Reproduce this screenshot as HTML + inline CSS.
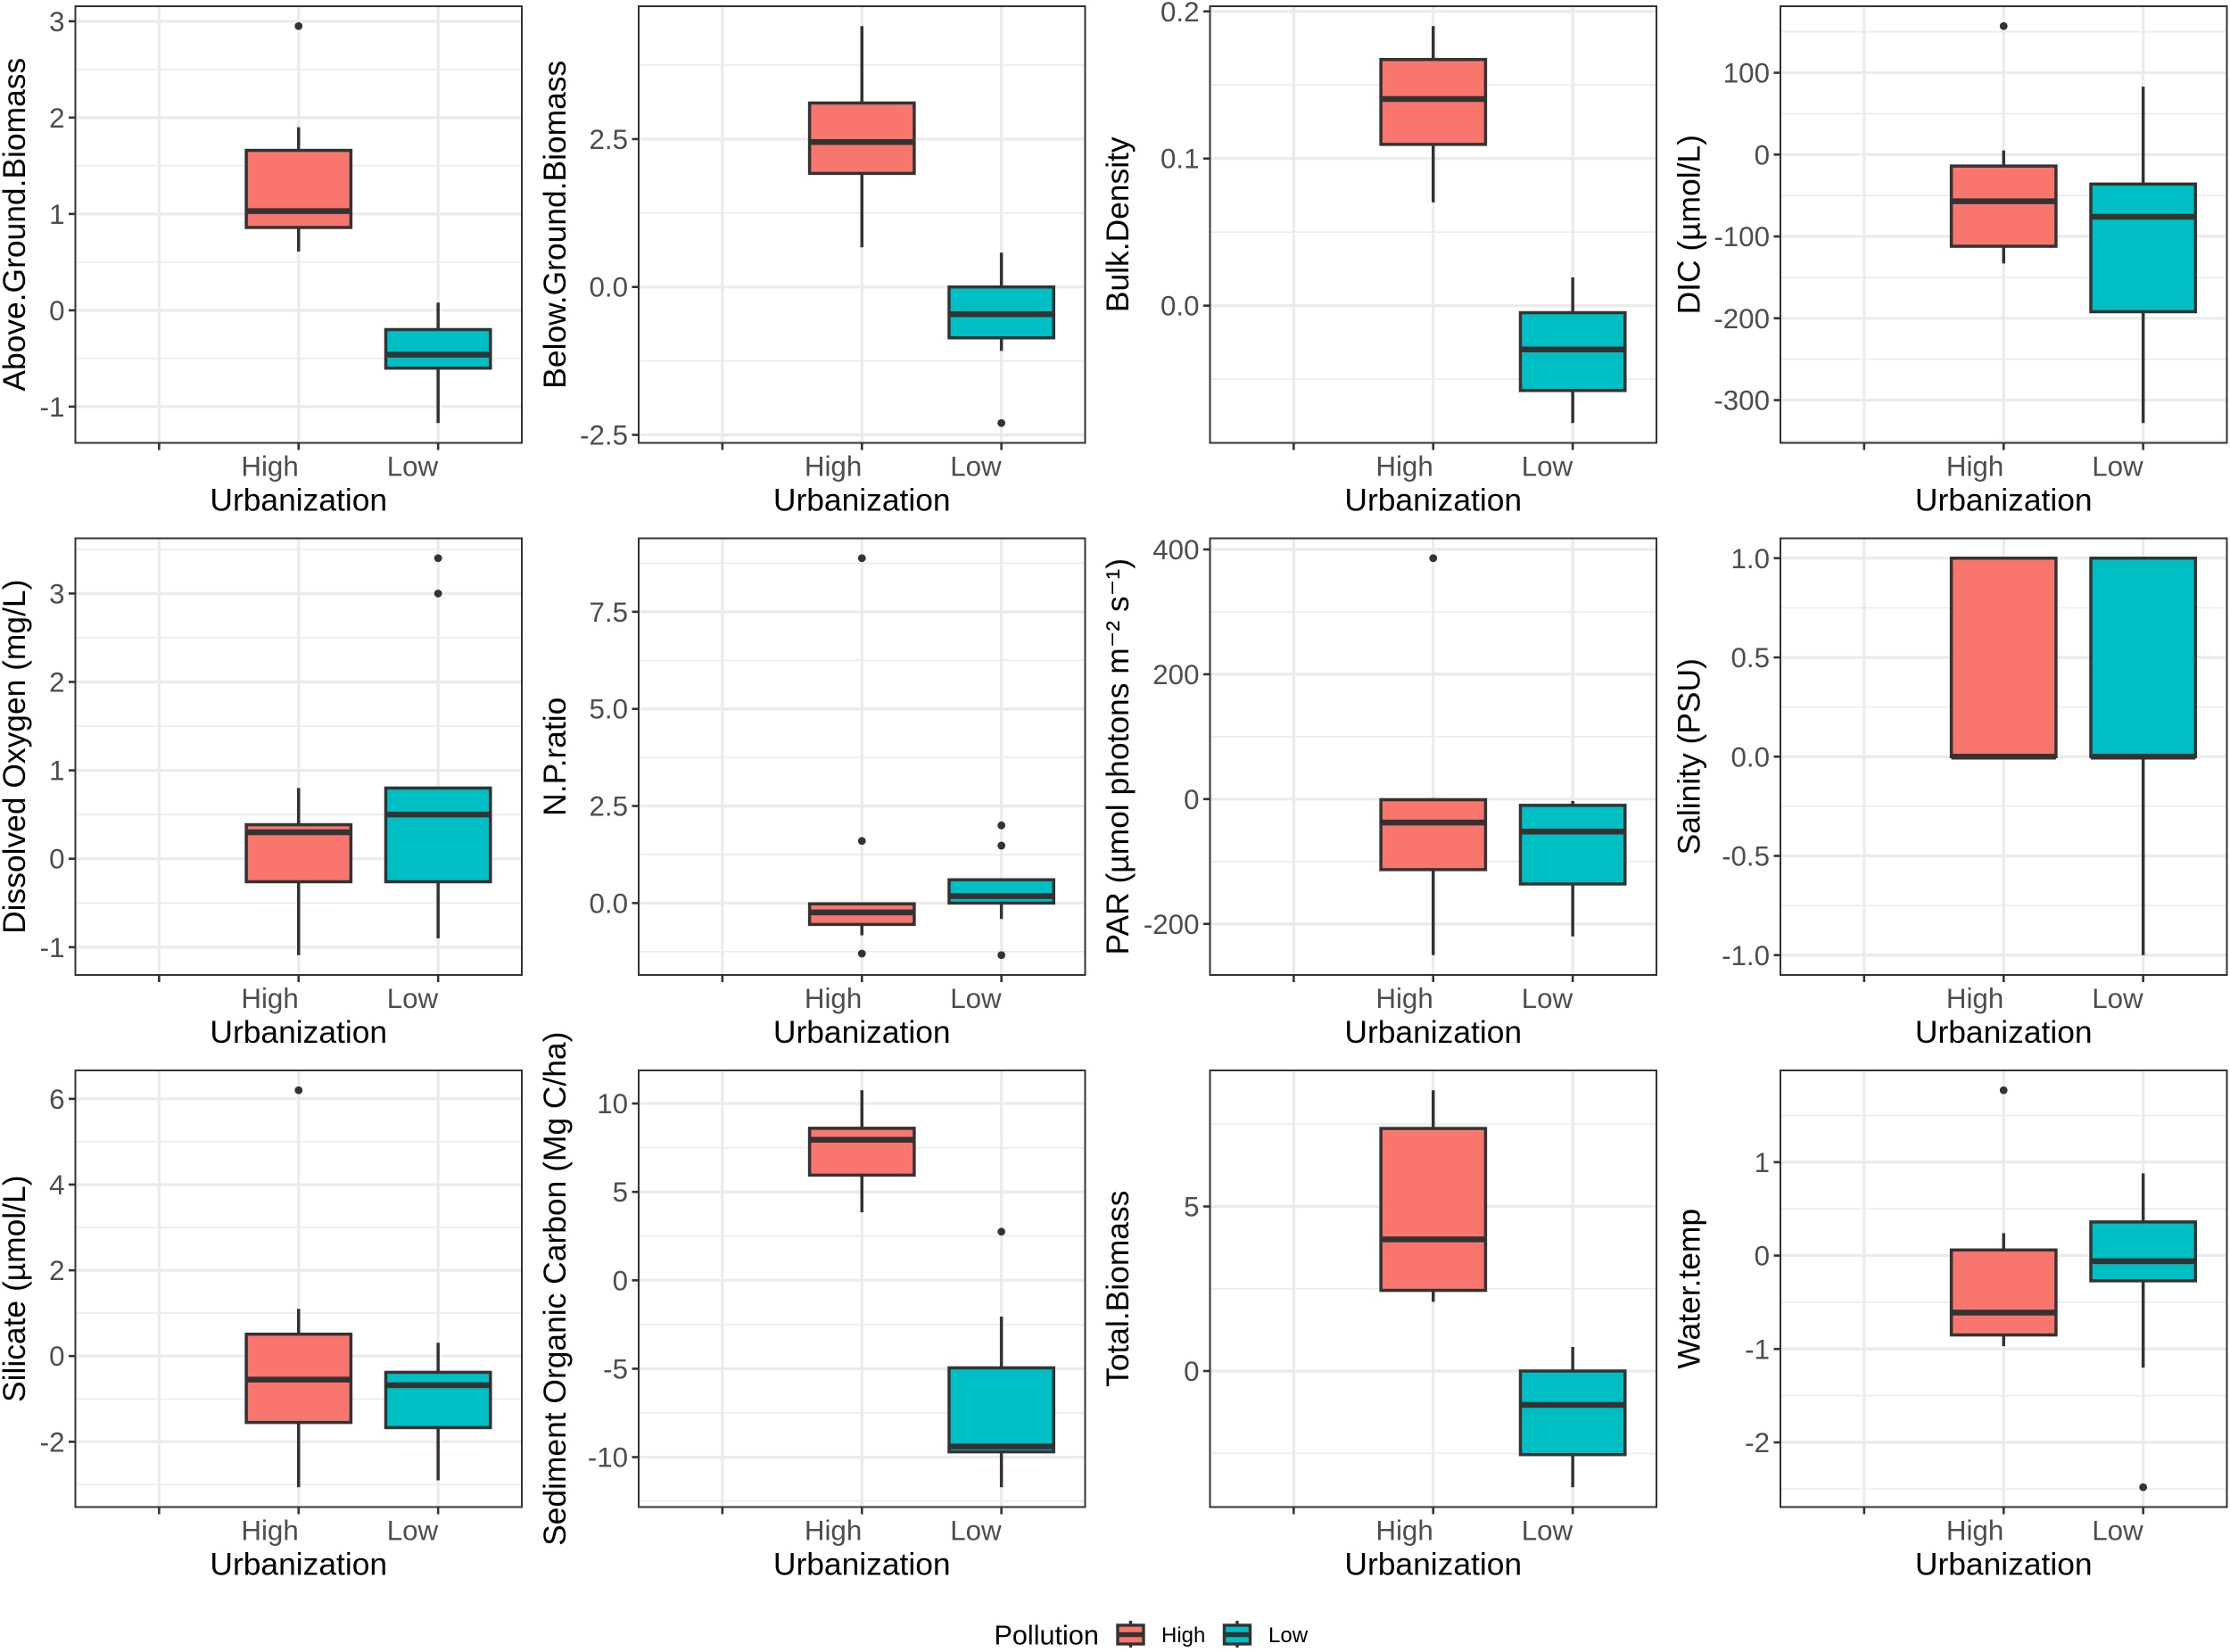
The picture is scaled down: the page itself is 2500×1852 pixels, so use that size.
<!DOCTYPE html>
<html lang="en">
<head>
<meta charset="utf-8">
<title>Boxplots by urbanization and pollution</title>
<style>
  html, body { margin: 0; padding: 0; background: #ffffff; }
  svg { display: block; font-family: "Liberation Sans", Arial, sans-serif; }
</style>
</head>
<body>
<svg id="figure" xmlns="http://www.w3.org/2000/svg" width="2500" height="1852" viewBox="0 0 2500 1852">
  <rect x="0" y="0" width="2500" height="1852" fill="#ffffff"/>
  <g id="panels"></g>
  <g>
    <text x="1114.5" y="1843.5" font-size="30.6" fill="#000000">Pollution</text>
    <g>
      <line x1="1267.5" x2="1267.5" y1="1817" y2="1847" stroke="#333333" stroke-width="3.4"/>
      <rect x="1253" y="1822" width="29" height="21" fill="#F8766D" stroke="#333333" stroke-width="3.4"/>
      <line x1="1253" x2="1282" y1="1832.5" y2="1832.5" stroke="#333333" stroke-width="5.5"/>
      <text x="1302" y="1841" font-size="24" fill="#000000">High</text>
    </g>
    <g>
      <line x1="1387" x2="1387" y1="1817" y2="1847" stroke="#333333" stroke-width="3.4"/>
      <rect x="1372.5" y="1822" width="29" height="21" fill="#00BFC4" stroke="#333333" stroke-width="3.4"/>
      <line x1="1372.5" x2="1401.5" y1="1832.5" y2="1832.5" stroke="#333333" stroke-width="5.5"/>
      <text x="1422" y="1841" font-size="24" fill="#000000">Low</text>
    </g>
  </g>
</svg>
<script>
// ---- Chart data ----
const xCategories = ['', 'High', 'Low'];
const variableTitles = [
  'Above.Ground.Biomass', 'Below.Ground.Biomass', 'Bulk.Density', 'DIC (\u00B5mol/L)',
  'Dissolved Oxygen (mg/L)', 'N.P.ratio', 'PAR (\u00B5mol photons m\u207B\u00B2 s\u207B\u00B9)', 'Salinity (PSU)',
  'Silicate (\u00B5mol/L)', 'Sediment Organic Carbon (Mg C/ha)', 'Total.Biomass', 'Water.temp'
];
const xAxisTitle = 'Urbanization';

// Each entry: [lower whisker, Q1, median, Q3, upper whisker]
const highStats = [
  [0.61, 0.86, 1.03, 1.66, 1.9],
  [0.67, 1.92, 2.45, 3.11, 4.41],
  [0.0702, 0.1096, 0.1404, 0.1673, 0.19],
  [-133, -112, -57, -14, 5],
  [-1.09, -0.26, 0.3, 0.385, 0.8],
  [-0.83, -0.55, -0.24, -0.02, -0.02],
  [-250, -113, -37.6, -1, 1.6],
  [0, 0, 0, 1, 1],
  [-3.06, -1.55, -0.55, 0.51, 1.1],
  [3.85, 5.95, 7.95, 8.6, 10.75],
  [2.1, 2.45, 4.0, 7.37, 8.53],
  [-0.97, -0.85, -0.61, 0.06, 0.24]
];
const lowStats = [
  [-1.17, -0.6, -0.46, -0.2, 0.08],
  [-1.08, -0.86, -0.46, 0, 0.58],
  [-0.0798, -0.0577, -0.0298, -0.0048, 0.0192],
  [-328, -192, -76, -36, 83],
  [-0.9, -0.26, 0.5, 0.8, 0.8],
  [-0.41, 0, 0.18, 0.6, 0.6],
  [-220, -136, -52, -10, -3],
  [-1, 0, 0, 1, 1],
  [-2.9, -1.67, -0.68, -0.38, 0.31],
  [-11.7, -9.7, -9.4, -4.95, -2.05],
  [-3.53, -2.54, -1.03, 0, 0.73],
  [-1.2, -0.27, -0.06, 0.36, 0.88]
];
const highOutliers = [
  [2.95], [], [], [157],
  [], [8.88, 1.6, -1.3], [386], [],
  [6.2], [], [], [1.77]
];
const lowOutliers = [
  [], [-2.3], [], [],
  [3.4, 3.0], [2.0, 1.48, -1.34], [], [],
  [], [2.75], [], [-2.48]
];
const yTicks = [
  [-1, 0, 1, 2, 3],
  [-2.5, 0, 2.5],
  [0, 0.1, 0.2],
  [-300, -200, -100, 0, 100],
  [-1, 0, 1, 2, 3],
  [0, 2.5, 5, 7.5],
  [-200, 0, 200, 400],
  [-1, -0.5, 0, 0.5, 1],
  [-2, 0, 2, 4, 6],
  [-10, -5, 0, 5, 10],
  [0, 5],
  [-2, -1, 0, 1]
];
const yTickLabels = [
  ['-1', '0', '1', '2', '3'],
  ['-2.5', '0.0', '2.5'],
  ['0.0', '0.1', '0.2'],
  ['-300', '-200', '-100', '0', '100'],
  ['-1', '0', '1', '2', '3'],
  ['0.0', '2.5', '5.0', '7.5'],
  ['-200', '0', '200', '400'],
  ['-1.0', '-0.5', '0.0', '0.5', '1.0'],
  ['-2', '0', '2', '4', '6'],
  ['-10', '-5', '0', '5', '10'],
  ['0', '5'],
  ['-2', '-1', '0', '1']
];

// ---- Rendering ----
const SVG_NS = 'http://www.w3.org/2000/svg';
const panelsRoot = document.getElementById('panels');
const columnLefts = [84.5, 716, 1356.5, 1996];
const rowTops = [7, 603.5, 1200];
const panelWidth = 500.5;
const panelHeight = 489.5;
const titleOffsets = [56.5, 82, 91.5, 90.5];

function make(parent, tag, attrs, text) {
  const el = document.createElementNS(SVG_NS, tag);
  for (const key in attrs) el.setAttribute(key, attrs[key]);
  if (text !== undefined) el.textContent = text;
  parent.appendChild(el);
  return el;
}

function extent(i) {
  const all = highStats[i].concat(lowStats[i], highOutliers[i], lowOutliers[i]);
  const lo = Math.min.apply(null, all);
  const hi = Math.max.apply(null, all);
  const pad = (hi - lo) * 0.05;
  return [lo - pad, hi + pad];
}

function drawBox(g, stats, outliers, cx, halfWidth, yScale, fill) {
  const upperWhisker = make(g, 'line', { x1: cx, x2: cx, y1: yScale(stats[4]), y2: yScale(stats[3]), stroke: '#333333', 'stroke-width': 3.5 });
  
  
  const lowerWhisker = make(g, 'line', { x1: cx, x2: cx, y1: yScale(stats[1]), y2: yScale(stats[0]), stroke: '#333333', 'stroke-width': 3.5 });
  
  
  const box = make(g, 'rect', { x: cx - halfWidth, y: yScale(stats[3]), width: halfWidth * 2, height: yScale(stats[1]) - yScale(stats[3]), fill: fill, stroke: '#333333', 'stroke-width': 3.5 });
  
  
  const median = make(g, 'line', { x1: cx - halfWidth, x2: cx + halfWidth, y1: yScale(stats[2]), y2: yScale(stats[2]), stroke: '#333333', 'stroke-width': 6.5 });
  
  
  outliers.forEach(function (value) {
    const point = make(g, 'circle', { cx: cx, cy: yScale(value), r: 4.4, fill: '#333333' });
    
    
  });
}

variableTitles.forEach(function (title, i) {
  const col = i % 4;
  const row = Math.floor(i / 4);
  const left = columnLefts[col];
  const top = rowTops[row];
  const bottom = top + panelHeight;
  const right = left + panelWidth;
  const domain = extent(i);
  const yScale = function (v) { return bottom - (v - domain[0]) / (domain[1] - domain[0]) * panelHeight; };
  const xStep = panelWidth / (xCategories.length + 0.2);
  const xScale = function (k) { return left + (k + 0.6) * xStep; };

  const panel = make(panelsRoot, 'g', {});
  
  

  const bg = make(panel, 'rect', { x: left, y: top, width: panelWidth, height: panelHeight, fill: '#ffffff' });
  
  

  // minor gridlines
  const ticks = yTicks[i];
  const step = ticks[1] - ticks[0];
  for (let k = -1; k < ticks.length; k++) {
    const v = ticks[0] + (k + 0.5) * step;
    if (v <= domain[0] || v >= domain[1]) continue;
    const minor = make(panel, 'line', { x1: left, x2: right, y1: yScale(v), y2: yScale(v), stroke: '#EBEBEB', 'stroke-width': 1.6 });
    
    
  }
  // major gridlines, y ticks, y labels
  ticks.forEach(function (v, t) {
    const y = yScale(v);
    const major = make(panel, 'line', { x1: left, x2: right, y1: y, y2: y, stroke: '#EBEBEB', 'stroke-width': 3.2 });
    
    
    const tick = make(panel, 'line', { x1: left - 7.5, x2: left, y1: y, y2: y, stroke: '#333333', 'stroke-width': 2.6 });
    
    
    const label = make(panel, 'text', { x: left - 12, y: y + 11, 'text-anchor': 'end', 'font-size': 31.3, fill: '#4D4D4D' }, yTickLabels[i][t]);
    
    
  });
  // vertical gridlines, x ticks, x labels
  xCategories.forEach(function (name, k) {
    const x = xScale(k);
    const vgrid = make(panel, 'line', { x1: x, x2: x, y1: top, y2: bottom, stroke: '#EBEBEB', 'stroke-width': 3.2 });
    
    
    const tick = make(panel, 'line', { x1: x, x2: x, y1: bottom, y2: bottom + 8, stroke: '#333333', 'stroke-width': 2.6 });
    
    
    if (name) {
      const label = make(panel, 'text', { x: x, y: bottom + 37, 'text-anchor': 'end', 'font-size': 31.3, fill: '#4D4D4D' }, name);
      
      
    }
  });

  const halfWidth = xStep * 0.375;
  const highGroup = make(panel, 'g', {});
  
  
  drawBox(highGroup, highStats[i], highOutliers[i], xScale(1), halfWidth, yScale, '#F8766D');
  const lowGroup = make(panel, 'g', {});
  
  
  drawBox(lowGroup, lowStats[i], lowOutliers[i], xScale(2), halfWidth, yScale, '#00BFC4');

  const border = make(panel, 'rect', { x: left, y: top, width: panelWidth, height: panelHeight, fill: 'none', stroke: '#333333', 'stroke-width': 2 });
  
  

  const xTitle = make(panel, 'text', { x: left + panelWidth / 2, y: bottom + 76, 'text-anchor': 'middle', 'font-size': 35.4, fill: '#000000' }, xAxisTitle);
  
  

  const yTitleX = left - titleOffsets[col];
  const yMid = top + panelHeight / 2;
  const yTitle = make(panel, 'text', { x: yTitleX, y: yMid, transform: 'rotate(-90 ' + yTitleX + ' ' + yMid + ')', 'text-anchor': 'middle', 'font-size': 35.4, fill: '#000000' }, title);
  
  
});
</script>
</body>
</html>
